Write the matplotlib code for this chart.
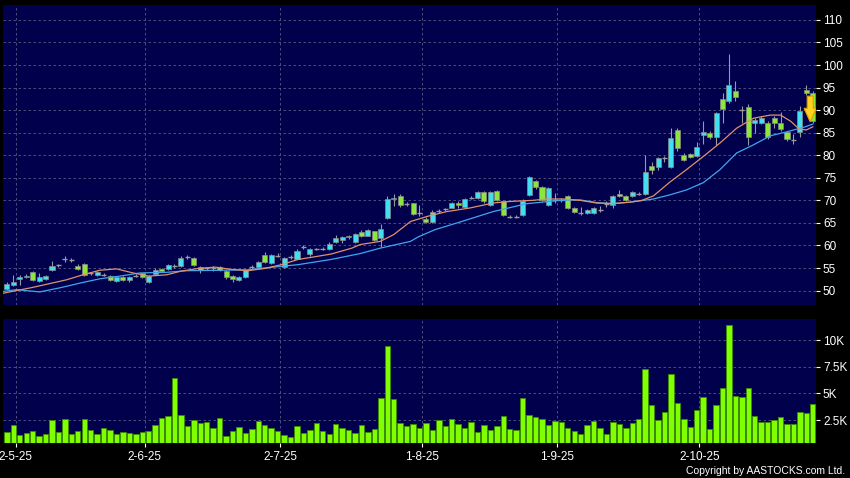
import numpy as np
import matplotlib.pyplot as plt
from matplotlib.patches import Polygon

plt.rcParams['font.family'] = ['Liberation Sans', 'DejaVu Sans']

# candles: open, close, high, low (price)
opens = [50.4, 51.2, 52.65, 53.0, 54.1, 52.2, 52.6, 54.6, 55.6, 56.9,
         56.8, 55.5, 55.9, 53.8, 53.5, 53.5, 53.3, 52.2, 53.0, 52.4,
         53.3, 53.8, 52.0, 53.7, 54.8, 54.8, 55.5, 55.4, 57.5, 57.2,
         55.2, 54.9, 54.9, 55.2, 54.3, 53.2, 52.4, 53.0, 55.2, 55.2,
         57.8, 56.1, 57.7, 55.2, 57.4, 57.1, 59.6, 58.2, 59.2, 59.3,
         59.3, 60.8, 61.2, 62.0, 60.8, 63.0, 62.2, 63.1, 61.6, 66.1,
         70.3, 71.0, 69.2, 69.3, 67.3, 65.9, 65.2, 67.7, 68.0, 68.4,
         69.5, 68.6, 70.5, 70.6, 71.8, 69.0, 72.0, 69.8, 66.4, 66.4,
         66.8, 71.2, 74.2, 72.9, 69.0, 70.1, 70.1, 70.9, 68.3, 67.3,
         67.2, 67.2, 67.9, 69.2, 69.0, 71.5, 70.9, 70.9, 71.5, 71.4,
         77.6, 77.3, 79.3, 77.4, 85.6, 80.1, 80.2, 79.9, 84.5, 85.0,
         84.1, 92.5, 92.0, 94.3, 90.0, 90.6, 87.1, 87.2, 87.2, 88.3,
         87.2, 85.1, 83.3, 85.2, 94.5, 93.9]
closes = [51.5, 51.9, 53.0, 53.3, 52.4, 53.0, 53.2, 55.5, 55.6, 56.9,
          56.8, 54.8, 53.5, 53.8, 54.1, 53.5, 52.4, 53.0, 52.4, 53.0,
          53.3, 53.0, 53.2, 54.5, 54.4, 55.7, 55.5, 57.2, 57.5, 55.75,
          54.6, 54.9, 54.9, 54.5, 52.9, 52.5, 53.1, 54.6, 55.2, 56.3,
          56.3, 57.8, 57.7, 57.2, 57.4, 58.7, 59.6, 59.2, 59.2, 59.3,
          60.3, 61.7, 61.9, 61.8, 62.5, 62.2, 63.4, 61.2, 63.6, 70.35,
          70.6, 69.0, 69.2, 67.0, 67.3, 65.2, 67.5, 67.7, 68.0, 69.3,
          68.9, 70.3, 70.5, 71.8, 69.8, 71.8, 70.1, 66.7, 66.4, 66.4,
          69.8, 75.1, 72.9, 70.1, 72.7, 70.1, 70.1, 68.3, 67.5, 67.3,
          67.9, 68.3, 67.9, 69.2, 70.9, 71.0, 70.1, 71.8, 71.5, 76.3,
          76.8, 79.3, 79.3, 83.9, 81.5, 79.0, 79.6, 81.9, 85.2, 84.0,
          89.3, 90.2, 95.5, 92.9, 90.0, 84.0, 87.8, 88.3, 84.1, 87.2,
          85.9, 83.6, 83.3, 89.9, 93.7, 87.5]
highs = [51.8, 53.5, 53.5, 53.6, 54.4, 53.9, 53.5, 56.6, 55.9, 57.6,
         57.2, 55.8, 56.0, 54.1, 54.4, 53.8, 53.5, 53.2, 53.2, 53.2,
         53.6, 54.0, 53.4, 54.9, 55.0, 55.9, 55.9, 57.6, 57.9, 57.4,
         55.4, 55.3, 55.4, 55.4, 54.5, 53.4, 53.3, 54.8, 55.7, 56.6,
         58.5, 58.0, 58.3, 57.4, 57.8, 59.2, 60.0, 59.4, 59.5, 59.6,
         60.7, 62.3, 62.1, 62.3, 62.7, 63.4, 63.6, 63.3, 64.8, 71.0,
         71.5, 71.3, 69.6, 69.5, 68.9, 66.2, 67.8, 68.1, 68.4, 69.6,
         69.8, 70.6, 70.9, 72.1, 72.0, 72.0, 72.4, 70.0, 66.8, 66.7,
         70.2, 75.3, 74.5, 73.2, 73.0, 71.6, 70.6, 71.2, 68.6, 68.6,
         68.1, 68.5, 68.8, 69.9, 71.1, 72.4, 71.1, 72.0, 71.8, 80.0,
         78.5, 79.7, 79.8, 86.0, 86.0, 80.4, 80.5, 83.0, 87.5, 85.3,
         89.6, 93.7, 102.4, 96.5, 91.0, 91.3, 88.2, 88.6, 87.5, 88.6,
         89.5, 85.3, 84.8, 91.0, 95.5, 94.2]
lows = [50.1, 51.0, 51.2, 52.7, 52.2, 51.9, 52.3, 54.3, 55.3, 56.3,
        56.4, 54.6, 53.3, 53.5, 53.3, 53.2, 52.2, 51.9, 52.2, 51.8,
        53.0, 52.8, 51.6, 53.5, 54.2, 54.6, 55.1, 55.2, 57.0, 55.5,
        54.0, 54.5, 54.4, 54.3, 52.6, 51.9, 52.2, 52.8, 54.8, 55.0,
        56.1, 55.9, 57.4, 55.0, 57.0, 56.9, 59.2, 57.6, 58.9, 59.0,
        59.1, 60.5, 60.6, 61.5, 60.6, 61.9, 62.0, 60.9, 59.6, 65.9,
        68.8, 68.5, 68.8, 66.8, 66.6, 64.9, 65.0, 67.2, 67.6, 68.2,
        68.4, 68.4, 70.2, 70.4, 69.5, 68.8, 69.9, 66.5, 66.0, 66.1,
        66.5, 71.0, 72.6, 69.8, 68.8, 69.4, 69.6, 68.1, 67.2, 66.8,
        67.0, 67.0, 67.5, 68.6, 68.3, 70.8, 69.9, 70.7, 71.2, 71.2,
        75.9, 76.7, 78.6, 77.2, 81.0, 78.7, 79.3, 79.6, 82.5, 83.6,
        82.3, 87.2, 91.5, 92.0, 87.2, 82.3, 85.0, 86.9, 83.5, 86.0,
        85.3, 83.2, 82.4, 84.0, 93.4, 87.2]

# volume in thousands
volume = [1.4, 2.0, 1.1, 1.3, 1.45, 1.0, 1.2, 2.5, 1.4, 2.6,
          1.15, 1.5, 2.6, 1.6, 1.2, 1.75, 1.6, 1.2, 1.35, 1.3,
          1.2, 1.4, 1.5, 2.0, 2.7, 2.85, 6.45, 3.0, 1.95, 2.5,
          2.25, 2.3, 1.75, 2.65, 1.0, 1.5, 1.85, 1.3, 1.7, 2.4,
          2.0, 1.8, 1.5, 1.1, 0.9, 1.95, 1.3, 1.6, 2.2, 1.5,
          1.2, 2.1, 1.8, 1.6, 1.3, 2.0, 1.4, 1.7, 4.6, 9.4,
          4.5, 2.2, 1.9, 2.1, 1.8, 2.2, 1.6, 2.5, 1.9, 2.6,
          2.1, 1.8, 2.3, 1.4, 2.0, 1.6, 1.9, 2.9, 1.7, 1.6,
          4.6, 3.0, 2.8, 2.6, 2.0, 2.4, 2.3, 1.8, 1.5, 1.2,
          2.0, 2.4, 1.75, 1.2, 2.3, 2.1, 1.8, 2.2, 2.6, 7.3,
          3.9, 2.5, 3.3, 6.8, 4.1, 2.6, 1.85, 3.4, 4.7, 1.7,
          3.9, 5.5, 11.4, 4.8, 4.7, 5.55, 2.85, 2.35, 2.35, 2.5,
          2.8, 2.1, 2.15, 3.3, 3.15, 4.05]

# moving average lines (bar index, price)
ma_short_x = [-0.6, 4, 9.3, 11.8, 14.4, 17, 19.6, 22, 24.8, 27, 29.7, 32.3, 34.8,
              37.4, 40, 42.6, 45.2, 47.8, 50.3, 53.5, 54.8, 57.9, 60, 62.6, 65.1,
              68.2, 71.8, 75.4, 78, 81.6, 83.7, 86.3, 88.9, 91.5, 94, 96.7, 98.5,
              100.3, 102.8, 105.4, 108, 110.6, 113.2, 115.8, 118.4, 120, 121.6,
              122.9, 124, 125]
ma_short_y = [49.4, 50.7, 52.4, 53.5, 54.5, 54.8, 53.9, 53.2, 53.5, 54.3, 54.9, 55.2,
              54.7, 54.4, 54.9, 55.75, 56.9, 57.5, 58.1, 59.4, 60.2, 60.9, 62.4,
              65.3, 66.4, 67.5, 68.3, 69.4, 69.75, 70.0, 70.3, 70.3, 70.0, 69.4,
              69.3, 69.6, 70.0, 71.0, 74.0, 76.8, 79.7, 82.7, 86.0, 88.2, 88.9,
              88.9, 87.5, 85.8, 85.6, 86.3]
ma_long_x = [-0.6, 1.5, 5.1, 8.2, 11.8, 14.4, 17.5, 20.6, 24.8, 27.9, 33, 37.4, 40,
             45.2, 50.3, 54.8, 57.9, 62.6, 63.8, 66.4, 70.3, 75.4, 80.6, 85.8,
             88.9, 91.5, 94, 96.7, 100.3, 102.8, 105.4, 108, 110.6, 113.2, 115.8,
             118.4, 121, 123.6, 125]
ma_long_y = [49.8, 50.2, 49.7, 50.6, 51.8, 52.6, 53.2, 53.9, 54.05, 54.4, 54.5, 54.6,
             55.0, 55.75, 56.9, 58.2, 59.4, 60.9, 61.9, 63.5, 65.2, 67.5, 69.25,
             70.0, 70.1, 69.5, 69.25, 69.6, 70.3, 71.2, 72.3, 73.9, 76.8, 80.5,
             82.3, 84.3, 85.2, 86.2, 86.9]

tick_idx = [1, 21, 42, 64, 85, 107]
tick_labels = ['2-5-25', '2-6-25', '2-7-25', '1-8-25', '1-9-25', '2-10-25']

up_col = '#40E0F0'
down_col = '#8CE63C'
flat_col = '#9a9a9a'
navy = '#00004C'
grid_col = '#5a5a80'

x = np.arange(len(opens))
o = np.array(opens)
c = np.array(closes)

fig = plt.figure(figsize=(8.5, 4.78), dpi=100, facecolor='black')
ax = fig.add_axes([3/850, 1-305/478, 813/850, 300/478], facecolor=navy)
axv = fig.add_axes([3/850, 1-443/478, 813/850, 124/478], facecolor=navy)

for a in (ax, axv):
    for s in a.spines.values():
        s.set_visible(False)
    a.set_xlim(-0.6, 125.5)
    a.yaxis.tick_right()
    a.tick_params(axis='y', colors='white', labelcolor='white', length=3, width=0.8,
                  labelsize=8.5, pad=2)
    a.set_xticks([t + 0.4 for t in tick_idx])
    a.set_axisbelow(True)
    a.grid(True, color=grid_col, linestyle=(0, (3, 3)), linewidth=0.6)

ax.set_ylim(46.8, 113.3)
ax.set_yticks(range(50, 111, 5))
ax.tick_params(axis='x', length=0, labelbottom=False)

# wicks
ax.vlines(x, lows, highs, color=flat_col, linewidth=0.8, zorder=2)
# bodies
up = c > o
down = c < o
flat = c == o
w = 0.78
ax.bar(x[up], (c - o)[up], bottom=o[up], width=w, color=up_col,
       edgecolor='#8a8a8a', linewidth=0.5, zorder=3)
ax.bar(x[down], (o - c)[down], bottom=c[down], width=w, color=down_col,
       edgecolor='#8a8a8a', linewidth=0.5, zorder=3)
ax.hlines(c[flat], x[flat] - w/2, x[flat] + w/2, color=flat_col, linewidth=1.0, zorder=3)

ax.plot(ma_long_x, ma_long_y, color='#3FA6EE', linewidth=0.9, zorder=4)
ax.plot(ma_short_x, ma_short_y, color='#E0906C', linewidth=0.9, zorder=4)

# down arrow on the last candle
ax_x, top, base, tip = 124.6, 93.1, 90.4, 87.4
arrow = Polygon([[ax_x - 0.47, top], [ax_x + 0.47, top], [ax_x + 0.47, base],
                 [ax_x + 0.95, base], [ax_x, tip], [ax_x - 0.95, base],
                 [ax_x - 0.47, base]], closed=True, facecolor='#FFD21E',
                edgecolor='#E39B00', linewidth=0.8, zorder=5)
ax.add_patch(arrow)

# volume
axv.bar(x, volume, width=0.84, color='#80FF00', edgecolor='#3C8C00', linewidth=0.6, zorder=3)
axv.set_ylim(0.35, 11.97)
axv.set_yticks([2.5, 5, 7.5, 10])
axv.set_yticklabels(['2.5K', '5K', '7.5K', '10K'])
axv.set_xticklabels(tick_labels)
axv.tick_params(axis='x', colors='white', labelcolor='white', length=3, width=0.8,
                labelsize=8.5, pad=3)

fig.text(845/850, 1-471/478, 'Copyright by AASTOCKS.com Ltd.', color='white',
         fontsize=7.5, ha='right', va='center')

fig.savefig('out.png', dpi=100, facecolor='black')
